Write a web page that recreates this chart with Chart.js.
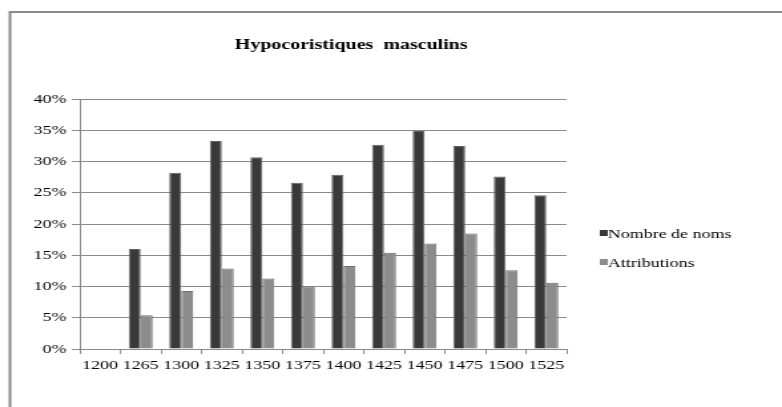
<!DOCTYPE html>
<html>
<head>
<meta charset="utf-8">
<script src="https://cdn.jsdelivr.net/npm/chart.js@4.4.1/dist/chart.umd.min.js"></script>
<style>
  html, body { margin: 0; padding: 0; background: #fff; overflow: hidden; }
  /* the original picture is stretched sideways, so the canvas is too */
  #wrap { width: 588px; height: 407px; transform: scaleX(1.33); transform-origin: 0 0; }
  canvas { display: block; }
</style>
</head>
<body>
<div id="wrap"><canvas id="chart" width="588" height="407" style="width:588px;height:407px"></canvas></div>
<script>
const years = ["1200", "1265", "1300", "1325", "1350", "1375", "1400", "1425", "1450", "1475", "1500", "1525"]
const nombreDeNoms = [null, 16.0, 28.2, 33.3, 30.7, 26.6, 27.9, 32.7, 34.9, 32.5, 27.6, 24.6]
const attributions = [null, 5.4, 9.3, 12.9, 11.3, 10.0, 13.3, 15.4, 16.9, 18.5, 12.6, 10.6]
const yTicks = [0, 5, 10, 15, 20, 25, 30, 35, 40]

const serif = "'Liberation Serif', 'Times New Roman', serif"
const title = "Hypocoristiques  masculins"

// frame, title and legend drawn by hand to sit where the original has them
const decor = {
  id: "decor",
  beforeDraw(chart) {
    const ctx = chart.ctx
    ctx.save()
    ctx.strokeStyle = "#8a8a8a"
    ctx.lineWidth = 2
    ctx.beginPath()
    ctx.moveTo(7.5, 407)
    ctx.lineTo(7.5, 12)
    ctx.lineTo(588, 12)
    ctx.stroke()
    ctx.restore()
  },
  afterDraw(chart) {
    const ctx = chart.ctx
    ctx.save()
    ctx.fillStyle = "#000"
    ctx.font = "bold 15px " + serif
    ctx.textAlign = "center"
    ctx.textBaseline = "middle"
    ctx.fillText(title, 264, 45)

    ctx.font = "13.5px " + serif
    ctx.textAlign = "left"
    chart.data.datasets.forEach((ds, i) => {
      const y = 233 + i * 29
      ctx.fillStyle = ds.backgroundColor
      ctx.fillRect(451, y - 3, 6, 6)
      ctx.fillStyle = "#000"
      ctx.fillText(ds.label, 457, y + 1)
    })
    ctx.restore()
  }
}

new Chart(document.getElementById("chart"), {
  type: "bar",
  data: {
    labels: years,
    datasets: [
      {
        label: "Nombre de noms",
        data: nombreDeNoms,
        backgroundColor: "#393939",
        borderColor: "#626262",
        borderWidth: 1,
        categoryPercentage: 0.59,
        barPercentage: 1.0,
      },
      {
        label: "Attributions",
        data: attributions,
        backgroundColor: "#8c8c8c",
        borderColor: "#6e6e6e",
        borderWidth: 1,
        categoryPercentage: 0.59,
        barPercentage: 1.0,
      },
    ],
  },
  options: {
    responsive: false,
    animation: false,
    layout: { padding: { top: 99, right: 162, bottom: 33, left: 0 } },
    plugins: {
      legend: { display: false },
      title: { display: false },
      tooltip: { enabled: false },
    },
    scales: {
      x: {
        offset: true,
        grid: { display: true, offset: true, drawOnChartArea: false, drawTicks: true, tickLength: 5, color: "#8a8a8a" },
        border: { color: "#8a8a8a", width: 1 },
        ticks: { color: "#000", padding: 3, font: { family: serif, size: 13.5 }, maxRotation: 0, autoSkip: false },
        afterFit: (scale) => { scale.height = 25 },
      },
      y: {
        min: 0,
        max: 40,
        afterBuildTicks: (scale) => { scale.ticks = yTicks.map(v => ({ value: v })) },
        grid: { color: "#8a8a8a", tickLength: 6, lineWidth: 1 },
        border: { color: "#8a8a8a", width: 1 },
        ticks: {
          color: "#000",
          padding: 4,
          font: { family: serif, size: 13.5 },
          callback: (v) => v + "%",
        },
        afterFit: (scale) => { scale.width = 60 },
      },
    },
  },
  plugins: [decor],
})
</script>
</body>
</html>
